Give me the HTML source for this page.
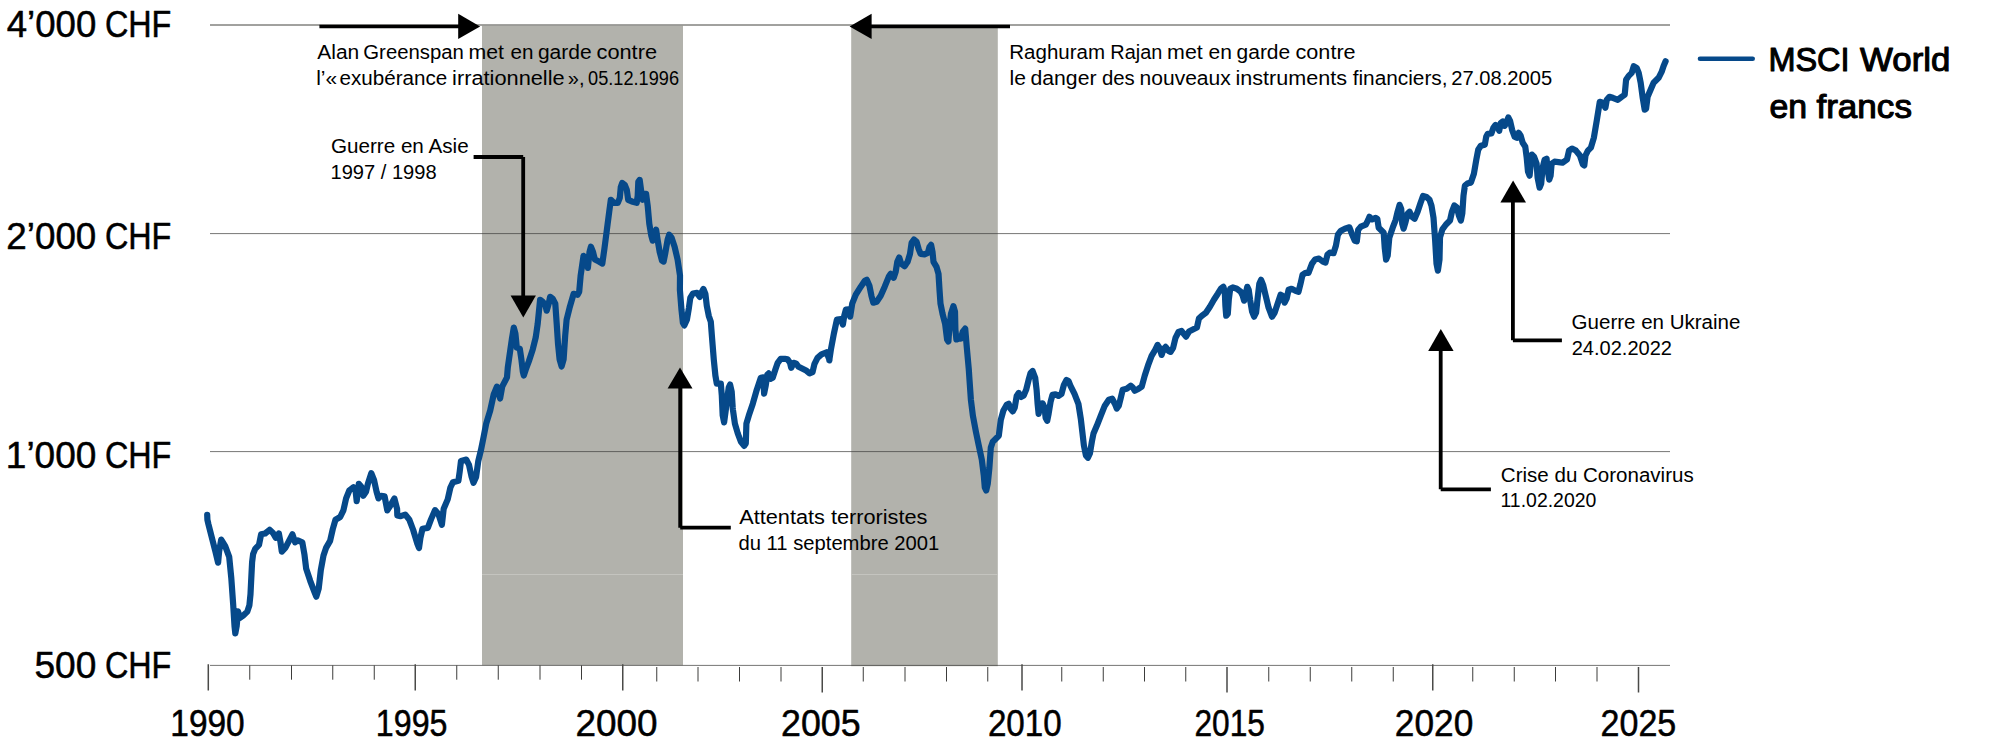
<!DOCTYPE html>
<html lang="fr"><head><meta charset="utf-8"><title>MSCI World en francs</title>
<style>html,body{margin:0;padding:0;background:#fff}svg{display:block}</style></head>
<body>
<svg width="2000" height="753" viewBox="0 0 2000 753" font-family='"Liberation Sans", sans-serif' fill="#000">
<rect width="2000" height="753" fill="#fff"/>
<rect x="482" y="25.8" width="201" height="639.5" fill="#b2b2ac"/>
<rect x="851.2" y="25.8" width="146.6" height="640.4" fill="#b2b2ac"/>
<path d="M482 574.5 H683 M851.2 574.5 H997.8" stroke="#c4c4bf" stroke-width="1" fill="none"/>
<path d="M210 25 H1670" stroke="#45453f" stroke-width="1" fill="none"/>
<path d="M210 233.6 H1670 M210 451.6 H1670 M210 665.4 H1670" stroke="#3c3c3b" stroke-opacity="0.7" stroke-width="1" fill="none"/>
<path d="M249.75 665.4 V679.7 M291.5 665.4 V679.7 M332.75 665.4 V679.7 M374.25 665.4 V679.7 M456.75 665.4 V679.7 M498.25 665.4 V679.7 M540 665.4 V679.7 M581.5 665.4 V679.7 M656.75 667 V681.5 M698 667 V681.5 M739.5 667 V681.5 M781 667 V681.5 M863.25 667 V681.5 M905 667 V681.5 M946.5 667 V681.5 M987.75 667 V681.5 M1061.75 667 V681.5 M1103.25 667 V681.5 M1144.5 667 V681.5 M1185.75 667 V681.5 M1268.75 667 V681.5 M1310.25 667 V681.5 M1351.75 667 V681.5 M1393.25 667 V681.5 M1472.75 667 V681.5 M1514.25 667 V681.5 M1555.5 667 V681.5 M1597 667 V681.5" stroke="#3c3c3b" stroke-width="1" fill="none"/>
<path d="M208.3 664.3 V690.6 M415.25 664.3 V690.6 M622.75 664.3 V690.6 M1022 664.3 V690.6 M1432.75 664.3 V690.6 M822.25 667 V692.5 M1227 667 V692.5 M1638.5 667 V692.5" stroke="#4a4a48" stroke-width="1.5" fill="none"/>
<path d="M207.2 514.9 L207.4 519.7 L208.5 524.5 L212.0 538.3 L215.4 551.6 L218.1 562.7 L219.1 551.6 L221.2 539.6 L225.2 546.2 L229.2 556.9 L231.3 578.1 L233.2 604.7 L234.5 625.9 L235.3 633.4 L236.7 625.9 L238.0 611.3 L239.8 618.0 L243.0 615.8 L247.3 611.6 L249.4 605.2 L250.5 594.1 L251.1 581.8 L252.1 562.2 L253.1 554.2 L255.2 548.9 L259.0 544.9 L261.1 534.3 L265.1 533.5 L269.6 529.8 L273.0 533.0 L275.7 537.7 L278.9 533.5 L280.5 542.3 L281.8 551.6 L285.5 547.6 L289.0 540.9 L292.4 534.3 L295.1 542.3 L297.7 540.4 L302.3 542.3 L304.4 554.2 L306.2 568.8 L310.2 580.8 L314.2 591.4 L316.3 596.7 L318.7 588.7 L320.8 570.1 L323.5 555.5 L326.2 547.6 L330.1 540.9 L332.8 529.0 L335.5 519.7 L340.2 517.0 L343.4 510.4 L346.1 498.4 L349.3 490.5 L353.5 487.3 L355.4 489.1 L356.7 501.1 L358.8 483.8 L361.2 486.5 L363.3 495.8 L366.0 491.8 L367.9 483.8 L371.3 473.2 L374.0 479.8 L376.6 491.8 L378.5 498.4 L381.1 495.8 L384.6 496.3 L387.3 510.4 L390.7 505.1 L394.4 498.4 L397.1 509.1 L397.3 515.4 L400.7 516.2 L405.2 514.6 L409.2 519.4 L413.2 530.0 L417.2 543.3 L419.0 548.0 L420.4 538.0 L422.5 528.7 L427.8 527.9 L431.0 519.4 L435.0 510.1 L438.4 514.1 L441.9 524.7 L443.7 508.7 L447.7 499.4 L450.4 487.5 L453.0 482.2 L458.4 480.8 L459.7 471.6 L461.0 460.9 L466.3 459.6 L469.0 464.9 L471.6 476.9 L473.5 482.7 L476.1 476.9 L478.3 460.9 L480.9 450.3 L483.6 437.0 L486.2 423.7 L490.2 410.5 L493.7 394.5 L496.9 386.6 L500.1 398.5 L502.2 386.6 L507.0 377.3 L507.8 367.5 L509.8 353.5 L511.8 339.6 L513.8 327.6 L515.4 333.6 L516.8 347.6 L519.8 348.6 L521.4 359.5 L522.8 371.5 L523.8 375.5 L525.8 369.5 L528.8 361.5 L532.7 349.6 L535.7 337.6 L537.7 323.7 L540.1 299.8 L542.7 301.8 L545.3 304.7 L546.7 310.7 L548.7 303.7 L550.1 296.8 L552.7 298.8 L555.3 303.7 L556.7 323.7 L558.0 343.6 L559.6 359.5 L561.6 366.5 L563.6 359.5 L565.2 335.6 L566.6 319.7 L569.6 307.7 L573.6 293.8 L577.6 294.8 L579.2 291.8 L580.6 275.9 L583.5 255.9 L586.5 258.9 L587.9 267.9 L589.5 252.0 L590.9 246.7 L592.9 251.6 L594.9 259.6 L598.9 261.6 L602.3 263.6 L604.3 249.6 L606.9 229.7 L609.2 211.8 L610.8 199.8 L613.8 202.8 L617.8 202.8 L619.8 197.8 L620.8 186.9 L622.2 182.9 L624.8 184.9 L626.8 189.9 L628.2 199.8 L631.8 201.4 L636.7 202.8 L637.7 195.9 L638.3 181.9 L639.7 179.9 L641.3 191.9 L642.7 199.8 L644.1 193.9 L646.1 193.9 L647.7 205.8 L649.3 223.7 L651.3 235.7 L652.7 240.7 L654.7 233.7 L656.1 229.7 L657.6 239.7 L659.6 251.6 L662.0 260.6 L663.6 261.6 L665.2 253.6 L667.6 239.7 L669.2 234.7 L671.6 237.7 L674.6 246.7 L677.6 259.6 L680.0 275.5 L679.9 290.0 L681.5 309.9 L682.9 322.8 L684.3 325.4 L686.9 319.8 L688.9 307.9 L690.3 297.9 L692.9 293.5 L696.9 292.9 L699.8 296.9 L701.8 292.0 L703.4 289.0 L705.4 293.9 L706.8 305.9 L708.8 315.9 L710.8 321.8 L712.2 339.8 L713.8 359.7 L715.4 375.6 L716.8 383.6 L720.8 383.6 L721.8 395.5 L722.7 415.5 L724.1 422.4 L726.1 407.5 L728.7 387.6 L730.1 384.6 L731.7 391.6 L732.7 407.5 L732.9 409.6 L734.9 423.6 L737.8 433.5 L740.8 441.5 L744.2 445.9 L745.8 443.5 L746.4 423.6 L748.8 415.6 L752.8 403.7 L756.8 389.7 L760.8 377.8 L763.3 377.4 L764.1 393.7 L765.7 385.7 L767.3 374.8 L768.7 373.4 L770.7 378.8 L772.7 377.8 L775.3 369.8 L777.7 362.8 L780.7 358.8 L784.7 358.8 L787.6 359.4 L790.0 362.8 L791.2 367.8 L793.6 362.8 L796.0 363.4 L798.6 366.8 L802.6 368.8 L806.6 370.8 L809.6 373.4 L812.5 372.2 L814.5 363.8 L817.5 357.8 L821.5 354.3 L826.5 352.3 L829.5 359.8 L829.3 360.4 L830.9 349.5 L833.9 333.5 L836.9 319.6 L840.9 319.2 L842.9 324.6 L844.3 315.6 L845.9 309.6 L848.8 309.2 L850.2 316.6 L852.2 303.7 L855.8 294.7 L860.8 286.7 L864.8 280.8 L866.8 279.8 L869.4 285.7 L871.4 295.7 L873.3 302.7 L876.7 301.7 L880.7 295.7 L884.7 286.7 L888.7 276.8 L890.7 273.8 L893.7 277.8 L895.7 271.8 L897.3 261.8 L899.2 257.5 L901.2 263.8 L904.6 266.2 L907.6 261.8 L910.0 253.9 L911.6 242.9 L914.0 239.5 L916.6 241.9 L918.6 248.9 L920.6 253.9 L924.5 254.3 L927.9 252.9 L929.5 246.9 L931.1 244.9 L932.5 251.9 L933.5 261.8 L936.5 266.8 L938.5 273.8 L939.5 289.7 L940.5 303.7 L942.5 313.6 L945.1 323.6 L947.1 339.5 L948.4 341.5 L949.4 327.6 L951.0 313.6 L953.4 306.1 L955.0 311.6 L955.4 329.6 L956.4 339.5 L958.8 338.6 L960.8 338.6 L962.8 331.6 L965.2 328.6 L966.8 347.6 L968.8 369.5 L969.5 379.9 L970.9 399.8 L972.9 415.8 L975.9 431.7 L978.8 445.7 L981.8 459.6 L983.8 475.5 L984.8 487.5 L986.2 490.5 L987.8 483.5 L989.4 467.6 L990.8 447.6 L992.8 441.7 L995.8 438.7 L998.8 435.7 L1000.8 419.8 L1003.3 410.8 L1006.7 404.8 L1008.7 403.8 L1010.7 408.8 L1012.7 411.4 L1014.7 407.8 L1016.7 395.9 L1018.7 392.9 L1021.3 396.9 L1023.7 395.5 L1026.1 389.9 L1028.6 379.9 L1030.6 372.9 L1032.6 371.0 L1035.2 377.9 L1036.6 389.9 L1037.6 403.8 L1038.6 413.8 L1040.6 403.8 L1042.6 403.4 L1044.6 407.8 L1045.6 417.8 L1047.2 420.8 L1048.6 413.8 L1050.6 401.8 L1052.5 394.9 L1055.5 394.3 L1058.5 395.9 L1061.5 393.9 L1063.9 384.9 L1066.5 379.9 L1068.5 380.9 L1070.5 385.9 L1074.5 393.9 L1078.4 403.8 L1080.9 419.6 L1082.3 431.6 L1083.9 445.5 L1085.9 455.5 L1087.9 457.8 L1089.9 453.5 L1091.9 441.5 L1093.5 433.5 L1096.9 425.6 L1100.8 415.6 L1104.8 405.7 L1108.8 399.7 L1112.2 398.7 L1114.8 403.7 L1116.8 408.6 L1118.8 405.7 L1120.8 397.7 L1122.7 389.7 L1126.7 388.7 L1130.7 385.7 L1132.7 387.3 L1134.7 390.7 L1138.7 388.7 L1141.7 386.7 L1144.7 375.8 L1148.6 363.8 L1151.6 355.9 L1155.2 349.9 L1157.6 344.9 L1159.6 347.9 L1161.6 354.9 L1163.6 348.9 L1165.6 346.9 L1168.6 350.9 L1170.6 351.9 L1173.1 347.9 L1175.5 337.9 L1178.5 332.0 L1181.5 331.0 L1186.0 336.6 L1189.0 331.6 L1192.9 329.6 L1196.9 327.6 L1198.9 318.6 L1201.9 315.7 L1205.9 312.7 L1209.9 306.7 L1213.9 299.7 L1217.8 293.7 L1220.8 288.8 L1223.4 286.8 L1224.8 291.8 L1225.4 305.7 L1226.2 315.7 L1227.8 313.7 L1228.8 299.7 L1230.2 288.8 L1232.8 287.4 L1236.8 288.8 L1240.8 291.8 L1242.7 295.7 L1244.1 300.7 L1245.7 293.7 L1247.3 286.8 L1248.7 289.8 L1250.1 299.7 L1252.1 311.7 L1254.1 316.7 L1256.1 312.7 L1257.7 297.7 L1259.3 283.8 L1261.1 279.8 L1263.1 284.8 L1265.7 295.7 L1268.6 307.7 L1272.0 316.7 L1274.6 312.7 L1277.6 303.7 L1280.6 294.7 L1282.6 295.7 L1284.6 302.7 L1286.6 298.7 L1288.6 289.8 L1291.6 288.8 L1295.5 290.8 L1298.5 291.8 L1300.5 283.8 L1302.5 274.8 L1305.5 272.8 L1308.5 272.8 L1312.0 263.6 L1315.0 259.6 L1319.0 258.6 L1322.9 261.6 L1325.5 262.6 L1327.5 254.6 L1329.9 252.6 L1333.5 253.2 L1335.9 245.7 L1337.9 234.7 L1340.9 230.7 L1344.9 228.7 L1349.4 227.3 L1351.8 233.7 L1354.8 240.7 L1356.8 241.3 L1358.2 229.7 L1360.8 226.7 L1365.8 224.7 L1368.2 219.8 L1369.4 216.8 L1372.2 219.4 L1375.7 217.8 L1377.3 218.8 L1378.7 227.7 L1381.7 230.7 L1383.7 232.7 L1384.7 247.6 L1386.1 259.6 L1387.7 255.6 L1389.3 237.7 L1392.7 227.7 L1395.7 219.8 L1397.6 211.8 L1399.6 204.8 L1401.2 208.8 L1402.2 223.7 L1403.6 228.7 L1405.6 221.8 L1407.6 213.8 L1409.6 211.8 L1412.0 216.8 L1414.6 218.8 L1417.6 211.8 L1420.6 202.8 L1423.1 195.9 L1426.5 196.9 L1429.5 199.8 L1431.5 205.8 L1433.5 217.8 L1435.1 239.7 L1436.5 263.6 L1437.9 270.6 L1439.5 259.6 L1440.0 237.4 L1442.4 229.4 L1446.0 224.5 L1450.0 220.5 L1452.0 211.5 L1454.3 205.5 L1456.9 207.5 L1458.9 215.5 L1460.9 220.5 L1462.3 213.5 L1463.5 195.6 L1464.9 185.6 L1467.9 183.2 L1470.9 182.6 L1473.9 173.7 L1476.3 159.7 L1478.2 149.8 L1480.8 145.8 L1484.8 144.8 L1486.2 136.8 L1487.8 133.8 L1491.4 133.4 L1493.4 127.8 L1495.4 124.9 L1497.8 126.9 L1499.2 130.8 L1500.8 122.9 L1502.7 121.5 L1504.7 125.9 L1506.7 121.9 L1508.3 117.5 L1510.1 120.9 L1512.1 129.8 L1514.7 136.8 L1516.7 137.8 L1518.7 132.8 L1520.7 135.8 L1522.7 142.8 L1525.3 146.8 L1526.7 157.7 L1528.0 171.7 L1529.6 175.7 L1530.6 165.7 L1532.0 154.7 L1534.0 156.7 L1536.6 163.7 L1537.6 177.6 L1539.6 187.6 L1541.2 183.6 L1542.6 167.7 L1544.6 159.7 L1546.6 158.7 L1547.6 169.7 L1549.2 179.6 L1550.6 175.7 L1551.6 163.7 L1554.5 161.7 L1558.5 162.1 L1562.5 162.7 L1567.0 159.5 L1569.0 150.6 L1572.0 148.6 L1575.9 150.6 L1579.9 155.5 L1582.9 164.5 L1584.3 165.5 L1585.5 155.5 L1587.9 150.6 L1590.9 147.6 L1593.9 137.6 L1596.9 119.7 L1599.8 101.8 L1602.8 102.7 L1605.4 107.7 L1606.8 99.8 L1609.4 96.8 L1612.8 97.8 L1617.8 99.8 L1621.8 96.8 L1624.7 94.8 L1626.1 79.8 L1628.7 75.9 L1631.7 72.9 L1633.7 66.3 L1636.7 67.9 L1638.7 72.9 L1640.7 82.8 L1642.7 97.8 L1644.7 109.7 L1646.1 108.7 L1647.6 96.8 L1650.6 89.8 L1653.6 82.8 L1658.6 77.8 L1661.6 71.9 L1663.6 65.9 L1665.6 61.3" stroke="#06498a" stroke-width="6.2" stroke-linejoin="round" stroke-linecap="round" fill="none"/>
<path d="M1700 58.8 H1752.7" stroke="#06498a" stroke-width="4.6" stroke-linecap="round" fill="none"/>
<g stroke="#000" stroke-width="3.8" fill="none">
<path d="M319.4 26.5 H460" stroke-width="3.4"/>
<path d="M1010 26.5 H870" stroke-width="3.4"/>
<path d="M473.6 157 H523.2 M523.2 157 V297"/>
<path d="M730.8 527.7 H680.2 M680.2 527.7 V387"/>
<path d="M1490.9 489.3 H1440.7 M1440.7 489.3 V350"/>
<path d="M1561.9 340.3 H1512.9 M1512.9 340.3 V201"/>
</g>
<g fill="#000">
<path d="M480.1 26.4 L458.2 13.8 V39 Z"/>
<path d="M849.6 26.4 L871.6 13.8 V39 Z"/>
<path d="M523.3 317.4 L510.6 295.4 H535.9 Z"/>
<path d="M680 367.5 L667.6 388.6 H692.5 Z"/>
<path d="M1440.8 329 L1428.2 351 H1453.6 Z"/>
<path d="M1513.1 180.5 L1500.4 202.5 H1526 Z"/>
</g>
<text y="37.25" font-size="36" font-weight="400" stroke="#000" stroke-width="0.5" stroke-linejoin="round"><tspan x="6.76" textLength="89.58" lengthAdjust="spacingAndGlyphs">4’000</tspan> <tspan x="104.88" textLength="66.45" lengthAdjust="spacingAndGlyphs">CHF</tspan></text>
<text y="249" font-size="36" font-weight="400" stroke="#000" stroke-width="0.5" stroke-linejoin="round"><tspan x="6.25" textLength="90.09" lengthAdjust="spacingAndGlyphs">2’000</tspan> <tspan x="104.88" textLength="66.45" lengthAdjust="spacingAndGlyphs">CHF</tspan></text>
<text y="468" font-size="36" font-weight="400" stroke="#000" stroke-width="0.5" stroke-linejoin="round"><tspan x="5.80" textLength="90.55" lengthAdjust="spacingAndGlyphs">1’000</tspan> <tspan x="104.88" textLength="66.45" lengthAdjust="spacingAndGlyphs">CHF</tspan></text>
<text y="678" font-size="36" font-weight="400" stroke="#000" stroke-width="0.5" stroke-linejoin="round"><tspan x="34.42" textLength="61.92" lengthAdjust="spacingAndGlyphs">500</tspan> <tspan x="104.88" textLength="66.45" lengthAdjust="spacingAndGlyphs">CHF</tspan></text>
<text y="736" font-size="36" font-weight="400" stroke="#000" stroke-width="0.5" stroke-linejoin="round"><tspan x="170.29" textLength="74.43" lengthAdjust="spacingAndGlyphs">1990</tspan></text>
<text y="736" font-size="36" font-weight="400" stroke="#000" stroke-width="0.5" stroke-linejoin="round"><tspan x="375.87" textLength="71.56" lengthAdjust="spacingAndGlyphs">1995</tspan></text>
<text y="736" font-size="36" font-weight="400" stroke="#000" stroke-width="0.5" stroke-linejoin="round"><tspan x="575.50" textLength="82.10" lengthAdjust="spacingAndGlyphs">2000</tspan></text>
<text y="736" font-size="36" font-weight="400" stroke="#000" stroke-width="0.5" stroke-linejoin="round"><tspan x="781.05" textLength="79.57" lengthAdjust="spacingAndGlyphs">2005</tspan></text>
<text y="736" font-size="36" font-weight="400" stroke="#000" stroke-width="0.5" stroke-linejoin="round"><tspan x="987.90" textLength="73.81" lengthAdjust="spacingAndGlyphs">2010</tspan></text>
<text y="736" font-size="36" font-weight="400" stroke="#000" stroke-width="0.5" stroke-linejoin="round"><tspan x="1194.46" textLength="70.50" lengthAdjust="spacingAndGlyphs">2015</tspan></text>
<text y="736" font-size="36" font-weight="400" stroke="#000" stroke-width="0.5" stroke-linejoin="round"><tspan x="1394.82" textLength="78.47" lengthAdjust="spacingAndGlyphs">2020</tspan></text>
<text y="736" font-size="36" font-weight="400" stroke="#000" stroke-width="0.5" stroke-linejoin="round"><tspan x="1600.62" textLength="75.68" lengthAdjust="spacingAndGlyphs">2025</tspan></text>
<text y="70.5" font-size="33.8" font-weight="400" stroke="#000" stroke-width="1.1" stroke-linejoin="round"><tspan x="1768.41" textLength="81.14" lengthAdjust="spacingAndGlyphs">MSCI</tspan> <tspan x="1860.09" textLength="90.23" lengthAdjust="spacingAndGlyphs">World</tspan></text>
<text y="118.4" font-size="33.8" font-weight="400" stroke="#000" stroke-width="1.1" stroke-linejoin="round"><tspan x="1769.50" textLength="37.58" lengthAdjust="spacingAndGlyphs">en</tspan> <tspan x="1816.40" textLength="95.57" lengthAdjust="spacingAndGlyphs">francs</tspan></text>
<text y="59.3" font-size="20" font-weight="400"><tspan x="317.32" textLength="41.96" lengthAdjust="spacingAndGlyphs">Alan</tspan> <tspan x="363.32" textLength="100.51" lengthAdjust="spacingAndGlyphs">Greenspan</tspan> <tspan x="468.53" textLength="35.45" lengthAdjust="spacingAndGlyphs">met</tspan> <tspan x="510.57" textLength="22.92" lengthAdjust="spacingAndGlyphs">en</tspan> <tspan x="537.95" textLength="53.66" lengthAdjust="spacingAndGlyphs">garde</tspan> <tspan x="596.51" textLength="60.51" lengthAdjust="spacingAndGlyphs">contre</tspan></text>
<text y="84.8" font-size="20" font-weight="400"><tspan x="316.17" textLength="20.98" lengthAdjust="spacingAndGlyphs">l’«</tspan> <tspan x="339.57" textLength="107.74" lengthAdjust="spacingAndGlyphs">exubérance</tspan> <tspan x="452.12" textLength="112.55" lengthAdjust="spacingAndGlyphs">irrationnelle</tspan> <tspan x="567.85" textLength="16.69" lengthAdjust="spacingAndGlyphs">»,</tspan> <tspan x="588.09" textLength="90.92" lengthAdjust="spacingAndGlyphs">05.12.1996</tspan></text>
<text y="153" font-size="20" font-weight="400"><tspan x="330.90" textLength="137.74" lengthAdjust="spacingAndGlyphs">Guerre en Asie</tspan></text>
<text y="178.6" font-size="20" font-weight="400"><tspan x="330.46" textLength="106.15" lengthAdjust="spacingAndGlyphs">1997 / 1998</tspan></text>
<text y="59.2" font-size="20" font-weight="400"><tspan x="1009.32" textLength="95.71" lengthAdjust="spacingAndGlyphs">Raghuram</tspan> <tspan x="1110.37" textLength="51.89" lengthAdjust="spacingAndGlyphs">Rajan</tspan> <tspan x="1167.12" textLength="35.67" lengthAdjust="spacingAndGlyphs">met</tspan> <tspan x="1208.55" textLength="23.36" lengthAdjust="spacingAndGlyphs">en</tspan> <tspan x="1236.55" textLength="53.66" lengthAdjust="spacingAndGlyphs">garde</tspan> <tspan x="1295.52" textLength="60.10" lengthAdjust="spacingAndGlyphs">contre</tspan></text>
<text y="84.8" font-size="20" font-weight="400"><tspan x="1009.57" textLength="16.41" lengthAdjust="spacingAndGlyphs">le</tspan> <tspan x="1030.54" textLength="65.96" lengthAdjust="spacingAndGlyphs">danger</tspan> <tspan x="1101.98" textLength="32.81" lengthAdjust="spacingAndGlyphs">des</tspan> <tspan x="1139.55" textLength="91.26" lengthAdjust="spacingAndGlyphs">nouveaux</tspan> <tspan x="1235.53" textLength="111.44" lengthAdjust="spacingAndGlyphs">instruments</tspan> <tspan x="1352.69" textLength="94.88" lengthAdjust="spacingAndGlyphs">financiers,</tspan> <tspan x="1451.39" textLength="100.72" lengthAdjust="spacingAndGlyphs">27.08.2005</tspan></text>
<text y="524.2" font-size="20" font-weight="400"><tspan x="739.21" textLength="188.25" lengthAdjust="spacingAndGlyphs">Attentats terroristes</tspan></text>
<text y="549.7" font-size="20" font-weight="400"><tspan x="738.49" textLength="200.77" lengthAdjust="spacingAndGlyphs">du 11 septembre 2001</tspan></text>
<text y="482" font-size="20" font-weight="400"><tspan x="1500.89" textLength="192.83" lengthAdjust="spacingAndGlyphs">Crise du Coronavirus</tspan></text>
<text y="507.4" font-size="20" font-weight="400"><tspan x="1500.51" textLength="95.83" lengthAdjust="spacingAndGlyphs">11.02.2020</tspan></text>
<text y="329.2" font-size="20" font-weight="400"><tspan x="1571.61" textLength="168.79" lengthAdjust="spacingAndGlyphs">Guerre en Ukraine</tspan></text>
<text y="354.6" font-size="20" font-weight="400"><tspan x="1571.70" textLength="100.31" lengthAdjust="spacingAndGlyphs">24.02.2022</tspan></text>
</svg>
</body></html>
